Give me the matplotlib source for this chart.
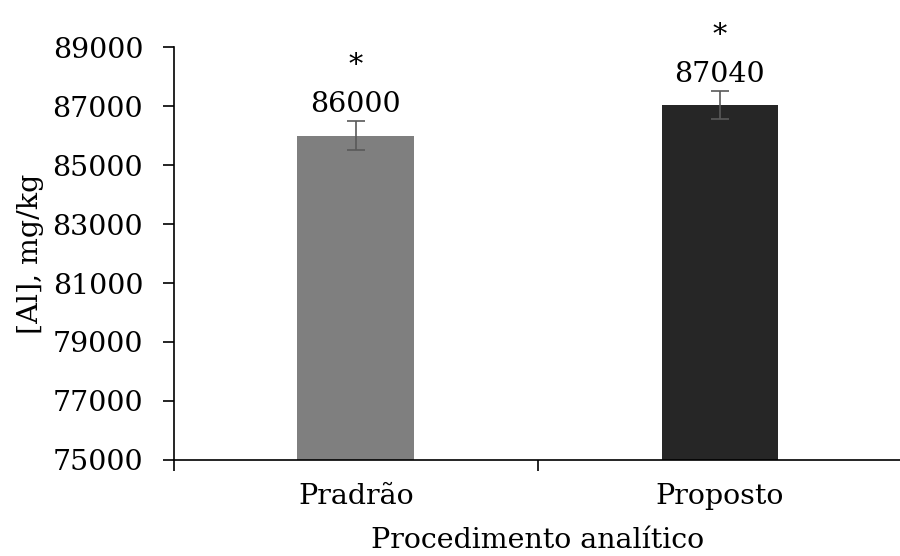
import matplotlib.pyplot as plt
import numpy as np

categorias = ["Pradrão", "Proposto"]
valores = [86000, 87040]
erros = [500, 480]
rotulos = ["86000", "87040"]
cores = ["#7f7f7f", "#262626"]
yticks = [75000, 77000, 79000, 81000, 83000, 85000, 87000, 89000]

plt.rcParams["font.family"] = ["DejaVu Serif"]
fs = 20.5

fig = plt.figure(figsize=(9, 5.56), dpi=100)
ax = fig.add_axes([0.193, 0.173, 0.809, 0.742])

x = np.arange(len(categorias))
ax.bar(x, valores, width=0.32, color=cores, zorder=2)
ax.errorbar(x, valores, yerr=erros, fmt="none", ecolor="#595959",
            elinewidth=1.2, capsize=6.5, capthick=1.2, zorder=3)

for xi, v, e, r in zip(x, valores, erros, rotulos):
    ax.annotate(r, (xi, v + e), xytext=(0, 2), textcoords="offset points",
                ha="center", va="bottom", fontsize=fs)
    ax.annotate("*", (xi, v + e), xytext=(0, 30), textcoords="offset points",
                ha="center", va="bottom", fontsize=fs)

ax.set_ylim(75000, 89000)
ax.set_xlim(-0.5, 1.5)
ax.set_yticks(yticks)
ax.set_yticklabels([str(t) for t in yticks], fontsize=fs)
ax.set_xticks(x)
ax.set_xticklabels(categorias, fontsize=fs)
ax.tick_params(axis="x", which="major", length=0, pad=17)
ax.set_xticks([-0.5, 0.5, 1.5], minor=True)
ax.tick_params(axis="x", which="minor", length=8, width=1.2, direction="out")
ax.tick_params(axis="y", length=8, width=1.2, pad=14)

for s in ["top", "right"]:
    ax.spines[s].set_visible(False)
for s in ["left", "bottom"]:
    ax.spines[s].set_linewidth(1.2)

ax.set_ylabel("[Al], mg/kg", fontsize=fs, labelpad=6)
ax.set_xlabel("Procedimento analítico", fontsize=fs, labelpad=12)

fig.savefig("out.png", dpi=100)
